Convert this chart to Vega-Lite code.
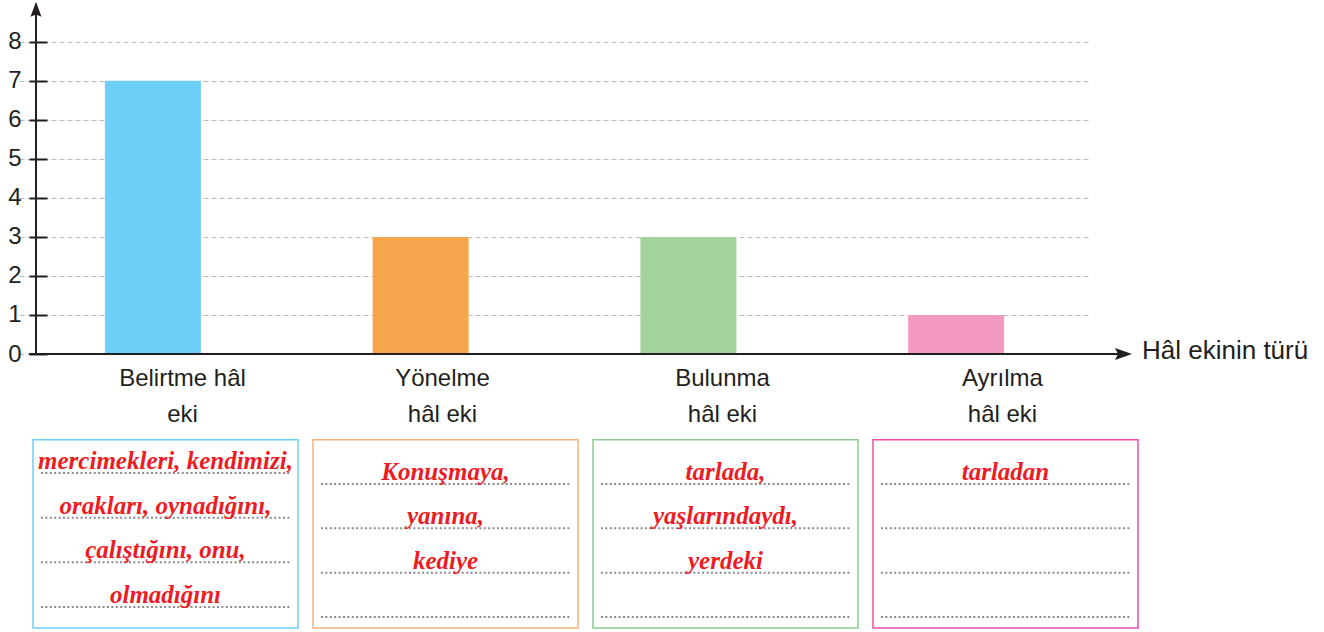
{
  "$schema": "https://vega.github.io/schema/vega-lite/v6.json",
  "width": 1043,
  "height": 632,
  "autosize": {"type": "none"},
  "padding": {"left": 47, "right": 234, "top": 0, "bottom": 0},
  "background": "white",
  "config": {"view": {"stroke": null}},
  "datasets": {
    "bars": [
      {"cat": "Belirtme", "value": 7, "label": "Belirtme hâl\neki"},
      {"cat": "Yönelme", "value": 3, "label": "Yönelme\nhâl eki"},
      {"cat": "Bulunma", "value": 3, "label": "Bulunma\nhâl eki"},
      {"cat": "Ayrılma", "value": 1, "label": "Ayrılma\nhâl eki"}
    ],
    "lines": [
      {"cat": "Belirtme", "line": 1}, {"cat": "Belirtme", "line": 2}, {"cat": "Belirtme", "line": 3}, {"cat": "Belirtme", "line": 4},
      {"cat": "Yönelme", "line": 1}, {"cat": "Yönelme", "line": 2}, {"cat": "Yönelme", "line": 3}, {"cat": "Yönelme", "line": 4},
      {"cat": "Bulunma", "line": 1}, {"cat": "Bulunma", "line": 2}, {"cat": "Bulunma", "line": 3}, {"cat": "Bulunma", "line": 4},
      {"cat": "Ayrılma", "line": 1}, {"cat": "Ayrılma", "line": 2}, {"cat": "Ayrılma", "line": 3}, {"cat": "Ayrılma", "line": 4}
    ],
    "words": [
      {"cat": "Belirtme", "line": 1, "text": "mercimekleri, kendimizi,"},
      {"cat": "Belirtme", "line": 2, "text": "orakları, oynadığını,"},
      {"cat": "Belirtme", "line": 3, "text": "çalıştığını, onu,"},
      {"cat": "Belirtme", "line": 4, "text": "olmadığını"},
      {"cat": "Yönelme", "line": 1, "text": "Konuşmaya,"},
      {"cat": "Yönelme", "line": 2, "text": "yanına,"},
      {"cat": "Yönelme", "line": 3, "text": "kediye"},
      {"cat": "Bulunma", "line": 1, "text": "tarlada,"},
      {"cat": "Bulunma", "line": 2, "text": "yaşlarındaydı,"},
      {"cat": "Bulunma", "line": 3, "text": "yerdeki"},
      {"cat": "Ayrılma", "line": 1, "text": "tarladan"}
    ],
    "one": [{}]
  },
  "resolve": {"scale": {"x": "independent", "y": "independent", "color": "independent"}},
  "layer": [
    {
      "layer": [
        {
          "data": {"name": "bars"},
          "mark": {"type": "bar", "width": 96},
          "encoding": {
            "x": {"field": "cat", "type": "nominal", "sort": null,
                  "scale": {"domain": ["Belirtme", "Yönelme", "Bulunma", "Ayrılma"], "range": [-28, 1043], "paddingInner": 0, "paddingOuter": 0},
                  "axis": null},
            "y": {"field": "value", "type": "quantitative",
                  "scale": {"domain": [-7.121, 9.068], "nice": false, "zero": false},
                  "axis": {"values": [0, 1, 2, 3, 4, 5, 6, 7, 8], "domain": false, "ticks": true, "tickSize": 18, "tickWidth": 2, "tickColor": "#231f20",
                           "labelFont": "Liberation Sans", "labelFontSize": 24, "labelColor": "#231f20", "labelPadding": 8,
                           "grid": true, "gridDash": [5, 3], "gridColor": "#bcbcbc", "gridWidth": 1.2, "title": null}},
            "color": {"field": "cat", "type": "nominal",
                      "scale": {"domain": ["Belirtme", "Yönelme", "Bulunma", "Ayrılma"], "range": ["#6dcff6", "#f7a54d", "#a3d39c", "#f49ac1"]},
                      "legend": null}
          }
        },
        {
          "data": {"name": "one"},
          "mark": {"type": "rule", "color": "#231f20", "strokeWidth": 2},
          "encoding": {"x": {"value": -11}, "y": {"datum": 0}, "y2": {"datum": 8.8}}
        },
        {
          "data": {"name": "one"},
          "mark": {"type": "point", "shape": "M0,-1L0.73,1L0,0.7L-0.73,1Z", "size": 225, "filled": true, "color": "#231f20", "opacity": 1},
          "encoding": {"x": {"value": -11}, "y": {"datum": 8.832}}
        },
        {
          "data": {"name": "one"},
          "mark": {"type": "rule", "color": "#231f20", "strokeWidth": 2},
          "encoding": {"y": {"datum": 0}, "x": {"value": -18}, "x2": {"value": 1072}}
        },
        {
          "data": {"name": "one"},
          "mark": {"type": "point", "shape": "M1,0L-1,0.7L-0.65,0L-1,-0.7Z", "size": 289, "filled": true, "color": "#231f20", "opacity": 1},
          "encoding": {"x": {"value": 1076.5}, "y": {"datum": 0}}
        },
        {
          "data": {"name": "one"},
          "mark": {"type": "text", "text": "Hâl ekinin türü", "align": "left", "baseline": "alphabetic", "dy": 4.5, "font": "Liberation Sans", "fontSize": 26, "color": "#231f20"},
          "encoding": {"x": {"value": 1095}, "y": {"datum": 0}}
        }
      ]
    },
    {
      "layer": [
        {
          "data": {"name": "bars"},
          "mark": {"type": "rect", "filled": false, "strokeWidth": 1.5},
          "encoding": {
            "x": {"field": "cat", "type": "nominal", "sort": null,
                  "scale": {"domain": ["Belirtme", "Yönelme", "Bulunma", "Ayrılma"], "range": [-21.5, 1098.5], "paddingInner": 0.05357, "paddingOuter": 0.026786},
                  "axis": null},
            "y": {"datum": 0, "type": "quantitative", "scale": {"domain": [1, 4], "range": [484, 617], "nice": false, "zero": false}, "axis": null},
            "y2": {"datum": 4.25},
            "color": {"field": "cat", "type": "nominal",
                      "scale": {"domain": ["Belirtme", "Yönelme", "Bulunma", "Ayrılma"], "range": ["#6dcff6", "#f9b07a", "#8dcb8d", "#ec4fab"]},
                      "legend": null}
          }
        },
        {
          "data": {"name": "lines"},
          "transform": [{"filter": "datum.cat !== 'Belirtme'"}],
          "mark": {"type": "rule", "color": "#8a8a8a", "strokeWidth": 2, "strokeDash": [2, 2.4]},
          "encoding": {
            "x": {"field": "cat", "type": "nominal", "bandPosition": 0.03},
            "x2": {"field": "cat", "bandPosition": 0.968},
            "y": {"field": "line", "type": "quantitative"}
          }
        },
        {
          "data": {"name": "words"},
          "transform": [{"filter": "datum.cat !== 'Belirtme'"}],
          "mark": {"type": "text", "baseline": "alphabetic", "dy": -4, "font": "Liberation Serif", "fontSize": 25, "fontStyle": "italic", "fontWeight": "bold", "color": "#ed1c24"},
          "encoding": {
            "x": {"field": "cat", "type": "nominal"},
            "y": {"field": "line", "type": "quantitative"},
            "text": {"field": "text"}
          }
        },
        {
          "data": {"name": "bars"},
          "transform": [{"filter": "datum.cat !== 'Belirtme'"}],
          "mark": {"type": "text", "baseline": "alphabetic", "dx": -3, "lineBreak": "\n", "lineHeight": 36, "font": "Liberation Sans", "fontSize": 24, "color": "#231f20"},
          "encoding": {
            "x": {"field": "cat", "type": "nominal"},
            "y": {"datum": -1.2},
            "text": {"field": "label"}
          }
        },
        {
          "data": {"name": "bars"},
          "transform": [{"filter": "datum.cat === 'Belirtme'"}],
          "mark": {"type": "text", "baseline": "alphabetic", "dx": 17, "lineBreak": "\n", "lineHeight": 36, "font": "Liberation Sans", "fontSize": 24, "color": "#231f20"},
          "encoding": {
            "x": {"field": "cat", "type": "nominal"},
            "y": {"datum": -1.2},
            "text": {"field": "label"}
          }
        }
      ]
    },
    {
      "layer": [
        {
          "data": {"name": "lines"},
          "transform": [{"filter": "datum.cat === 'Belirtme'"}],
          "mark": {"type": "rule", "color": "#8a8a8a", "strokeWidth": 2, "strokeDash": [2, 2.4]},
          "encoding": {
            "x": {"field": "cat", "type": "nominal", "bandPosition": 0.03,
                  "scale": {"domain": ["Belirtme", "Yönelme", "Bulunma", "Ayrılma"], "range": [-21.5, 1098.5], "paddingInner": 0.05357, "paddingOuter": 0.026786},
                  "axis": null},
            "x2": {"field": "cat", "bandPosition": 0.968},
            "y": {"field": "line", "type": "quantitative", "scale": {"domain": [1, 4], "range": [473, 607], "nice": false, "zero": false}, "axis": null}
          }
        },
        {
          "data": {"name": "words"},
          "transform": [{"filter": "datum.cat === 'Belirtme'"}],
          "mark": {"type": "text", "baseline": "alphabetic", "dy": -4, "font": "Liberation Serif", "fontSize": 25, "fontStyle": "italic", "fontWeight": "bold", "color": "#ed1c24"},
          "encoding": {
            "x": {"field": "cat", "type": "nominal"},
            "y": {"field": "line", "type": "quantitative"},
            "text": {"field": "text"}
          }
        }
      ]
    }
  ]
}
